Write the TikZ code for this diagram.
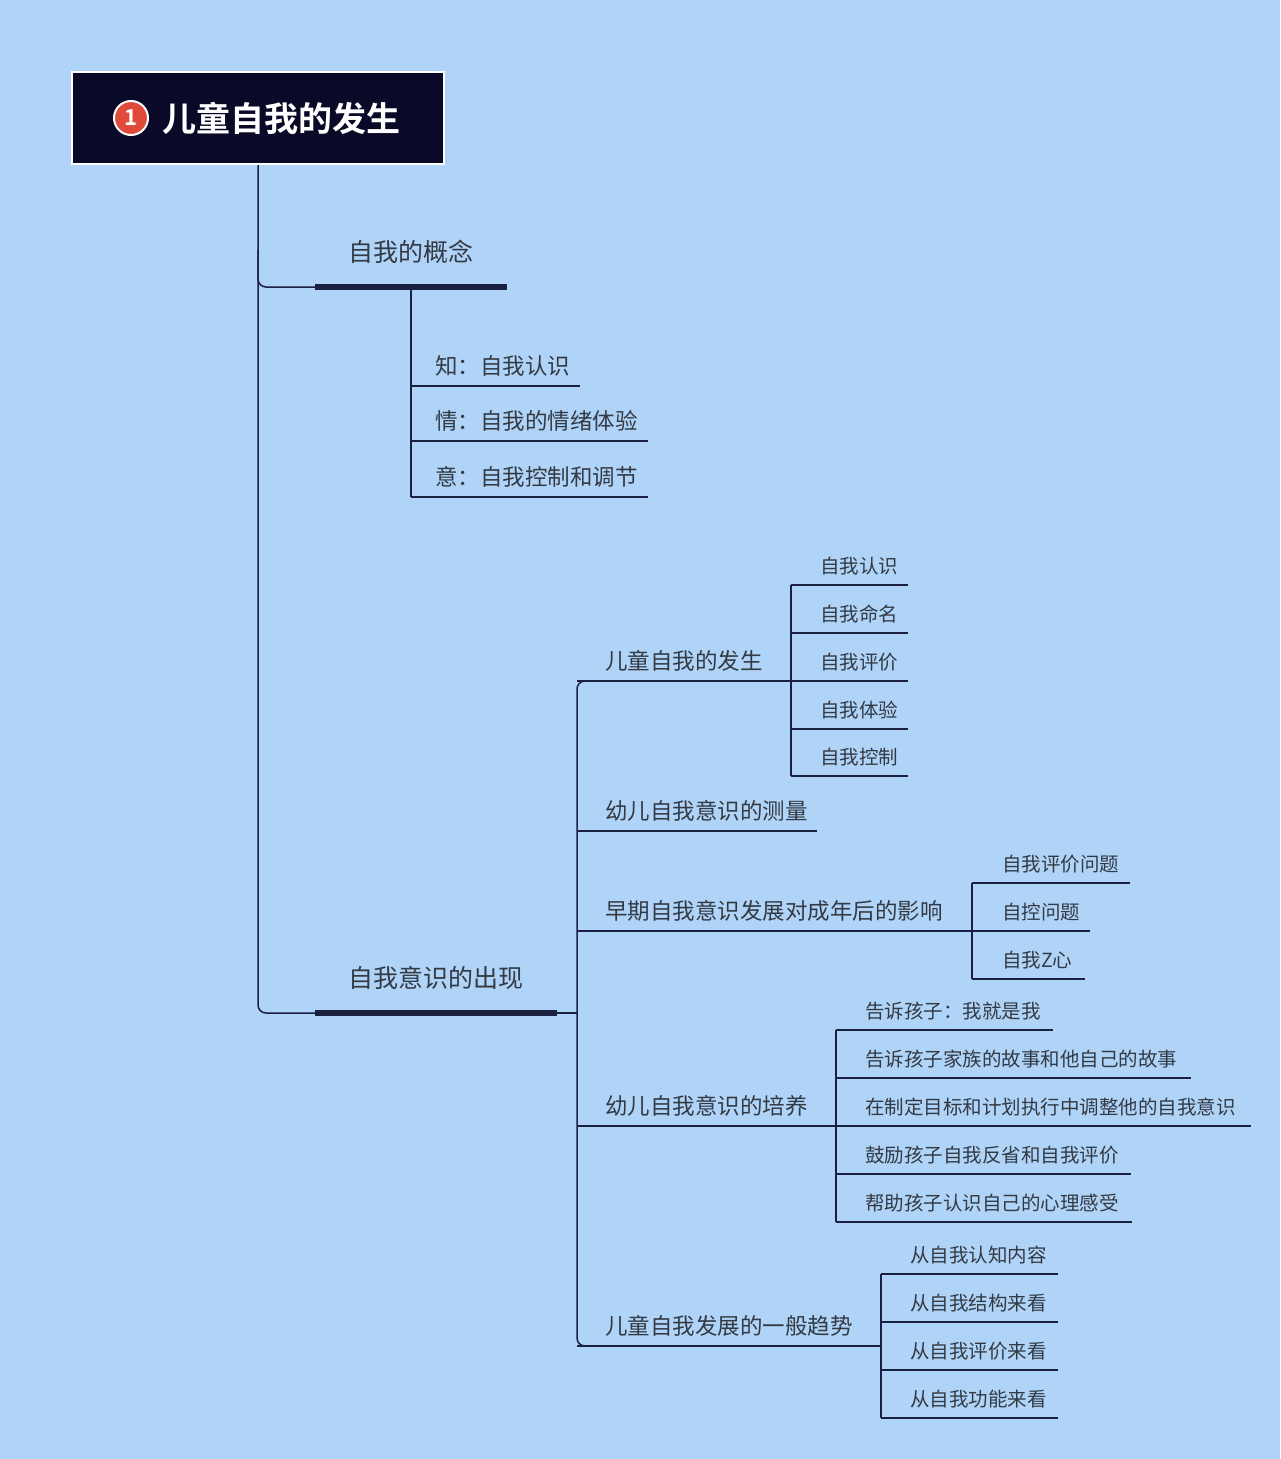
\documentclass[tikz,border=0pt]{standalone}
\usepackage{fontspec}
\setmainfont{Noto Sans CJK SC}
\newfontfamily\cjkb{Noto Sans CJK SC Bold}
\definecolor{bg}{HTML}{B0D4F8}
\definecolor{ln}{HTML}{1C2040}
\definecolor{tx}{HTML}{333A44}
\definecolor{ttl}{HTML}{0A0A28}
\definecolor{rd}{HTML}{E04A3A}
\begin{document}
\begin{tikzpicture}[x=1pt,y=-1pt,
  conn/.style={draw=ln,line width=1.5pt,rounded corners=8pt},
  bar/.style={draw=ln,line width=6pt},
  uline/.style={draw=ln,line width=1.5pt},
  lA/.style={anchor=base west,text=tx,font=\fontsize{25}{28}\selectfont,inner sep=0pt},
  lB/.style={anchor=base west,text=tx,font=\fontsize{22.5}{26}\selectfont,inner sep=0pt},
  lC/.style={anchor=base west,text=tx,font=\fontsize{19.5}{23}\selectfont,inner sep=0pt}]
\fill[bg] (0,0) rectangle (1280,1459);
\useasboundingbox (0,0) rectangle (1280,1459);
% title
\node[draw=white,line width=2pt,fill=ttl,minimum width=372pt,minimum height=92pt,inner sep=0pt] (root) at (258,118) {};
\node[circle,fill=rd,draw=white,line width=2pt,minimum size=34pt,inner sep=0pt,text=white,font=\cjkb\fontsize{22}{24}\selectfont] (num) at (131,118) {1};
\node[anchor=west,text=white,font=\cjkb\fontsize{34}{38}\selectfont,inner sep=0pt] (title) at (162,118) {儿童自我的发生};
% trunk
\coordinate (r1) at (315,287);
\coordinate (r2) at (315,1013);
\draw[conn] (root.south) -- (258,1013) -- (r2);
\draw[conn] (258,250) -- (258,287) -- (r1);
\draw[bar] (315,287) -- (507,287);
\draw[bar] (315,1013) -- (557,1013);
\node[lA] (c1) at (348,261) {自我的概念};
\node[lA] (c2) at (348,987) {自我意识的出现};
% concept leaves
\draw[uline] (411,287) -- (411,497);
\foreach \y/\e/\t [count=\i] in {386/580/知：自我认识,441/648/情：自我的情绪体验,497/648/意：自我控制和调节}{
  \draw[uline] (411,\y) -- (\e,\y);
  \node[lB] (k\i) at (435,\y-12) {\t};
}
% second branch
\draw[uline] (557,1013) -- (577,1013);
\draw[conn] (590,681) -- (577,681) -- (577,1346) -- (590,1346);
\foreach \y/\e/\t [count=\i] in {681/790/儿童自我的发生,831/817/幼儿自我意识的测量,931/972/早期自我意识发展对成年后的影响,1126/836/幼儿自我意识的培养,1346/881/儿童自我发展的一般趋势}{
  \draw[uline] (577,\y) -- (\e,\y);
  \node[lB] (b\i) at (605,\y-12) {\t};
}
% leaves group 1
\draw[uline] (791,585) -- (791,776);
\foreach \y/\t [count=\i] in {585/自我认识,633/自我命名,681/自我评价,729/自我体验,776/自我控制}{
  \draw[uline] (791,\y) -- (908,\y);
  \node[lC] (g\i) at (820,\y-12) {\t};
}
% group 3
\draw[uline] (972,883) -- (972,979);
\foreach \y/\e/\t [count=\i] in {883/1130/自我评价问题,931/1090/自控问题,979/1085/自我Z心}{
  \draw[uline] (972,\y) -- (\e,\y);
  \node[lC] (h\i) at (1002,\y-12) {\t};
}
% group 4
\draw[uline] (836,1030) -- (836,1222);
\foreach \y/\e/\t [count=\i] in {1030/1053/告诉孩子：我就是我,1078/1191/告诉孩子家族的故事和他自己的故事,1126/1251/在制定目标和计划执行中调整他的自我意识,1174/1131/鼓励孩子自我反省和自我评价,1222/1132/帮助孩子认识自己的心理感受}{
  \draw[uline] (836,\y) -- (\e,\y);
  \node[lC] (p\i) at (865,\y-12) {\t};
}
% group 5
\draw[uline] (881,1274) -- (881,1418);
\foreach \y/\t [count=\i] in {1274/从自我认知内容,1322/从自我结构来看,1370/从自我评价来看,1418/从自我功能来看}{
  \draw[uline] (881,\y) -- (1058,\y);
  \node[lC] (q\i) at (910,\y-12) {\t};
}
\end{tikzpicture}
\end{document}
